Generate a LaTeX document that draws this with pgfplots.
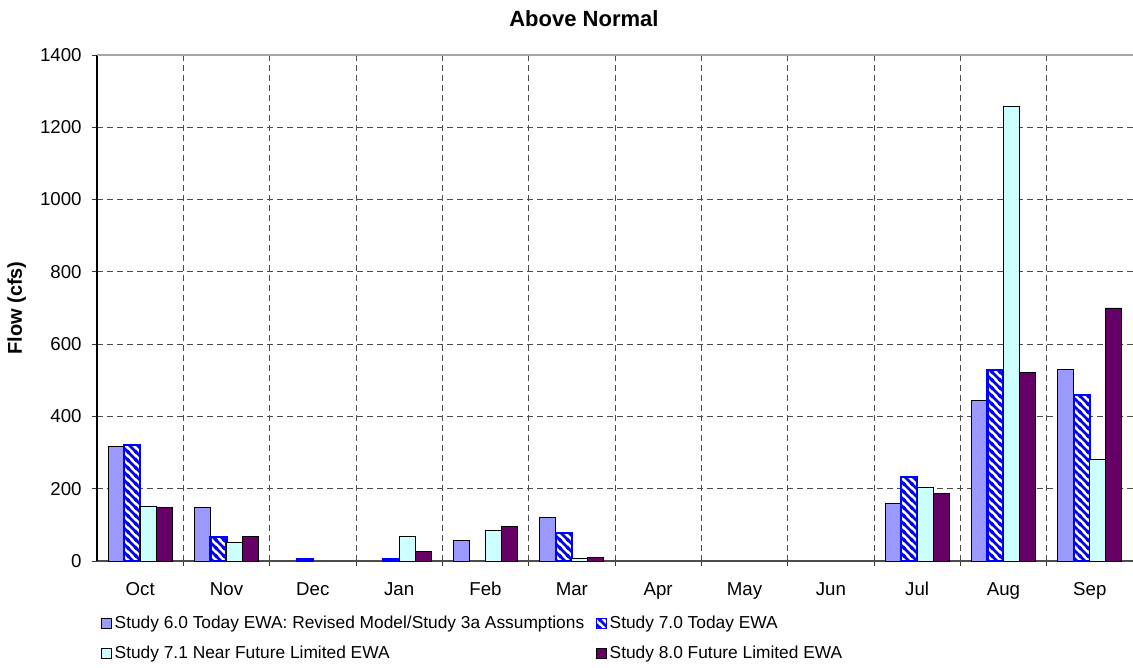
\documentclass[border=0pt]{standalone}
\usepackage{fontspec}
\setmainfont{Liberation Sans}
\usepackage{pgfplots}
\pgfplotsset{compat=1.18}
\usetikzlibrary{patterns}
\pgfdeclarepatternformonly{thicknw}{\pgfqpoint{-1pt}{-1pt}}{\pgfqpoint{7pt}{7pt}}{\pgfqpoint{6pt}{6pt}}{%
  \pgfsetlinewidth{2pt}%
  \pgfpathmoveto{\pgfqpoint{-1pt}{7pt}}\pgfpathlineto{\pgfqpoint{7pt}{-1pt}}%
  \pgfpathmoveto{\pgfqpoint{-1pt}{1pt}}\pgfpathlineto{\pgfqpoint{1pt}{-1pt}}%
  \pgfpathmoveto{\pgfqpoint{5pt}{7pt}}\pgfpathlineto{\pgfqpoint{7pt}{5pt}}%
  \pgfusepath{stroke}}
\definecolor{lav}{HTML}{9999FF}
\definecolor{pyel}{HTML}{FFFFCC}
\definecolor{cyn}{HTML}{CCFFFF}
\definecolor{pur}{HTML}{660066}
\begin{document}
\begin{tikzpicture}
\begin{axis}[
  at={(0,0)}, anchor=south west,
  scale only axis, width=777pt, height=379.5pt,
  xmin=-0.5, xmax=11.5, ymin=0, ymax=1400,
  ytick={0,200,...,1400},
  xtick={0,...,11},
  xticklabels={Oct,Nov,Dec,Jan,Feb,Mar,Apr,May,Jun,Jul,Aug,Sep},
  minor xtick={0.5,1.5,...,10.5},
  xminorgrids, ymajorgrids,
  grid style={dash pattern=on 4.5pt off 3pt, black!70, line width=0.6pt},
  minor grid style={dash pattern=on 4.5pt off 3pt, black!70, line width=0.6pt},
  major x tick style={draw=none},
  tick align=outside,
  tick style={black!80, line width=0.6pt},
  major tick length=4pt, minor tick length=4pt,
  axis x line*=bottom, axis y line*=left,
  x axis line style={-, black!70, line width=1pt},
  y axis line style={-, black, line width=0.8pt},
  /pgf/number format/assume math mode=true,
  /pgf/number format/1000 sep={},
  ticklabel style={font=\fontsize{14}{16}\selectfont},
  yticklabel style={xshift=-4pt},
  xticklabel style={yshift=-8pt, text height=10pt, text depth=3pt},
  title={Above Normal},
  title style={at={(0.47,1)}, anchor=center, yshift=21pt, font=\bfseries\fontsize{16.5}{19}\selectfont},
  ylabel={Flow (cfs)},
  ylabel style={at={(axis description cs:-0.0775,0.5)}, anchor=center, font=\bfseries\fontsize{15}{17}\selectfont},
  bar width=0.185,
  ybar=0pt,
  legend columns=2,
  legend style={at={(axis description cs:0,0)}, anchor=north west, xshift=0pt, yshift=-37pt,
    draw=none, fill=none, font=\fontsize{13}{15}\selectfont, row sep=7.5pt,
    /tikz/column 2/.style={column sep=7pt}},
  legend cell align=left,
  legend image code/.code={\draw[line width=0.6pt,#1] (0pt,-3.75pt) rectangle (7.5pt,3.75pt);},
]
\addplot[fill=lav, draw=black, line width=0.6pt, bar shift=-0.2775] coordinates {
  (0,318) (1,147) (4,56) (5,121) (9,158) (10,445) (11,530)};
\addplot[fill=pyel, draw=blue, line width=1.6pt, bar shift=-0.0925,
  postaction={pattern=thicknw, pattern color=blue}] coordinates {
  (0,320) (1,67) (2,5) (3,5) (5,78) (9,232) (10,528) (11,459)};
\addplot[fill=cyn, draw=black, line width=0.6pt, bar shift=0.0925] coordinates {
  (0,151) (1,51) (3,69) (4,86) (5,7) (9,205) (10,1258) (11,282)};
\addplot[fill=pur, draw=black, line width=0.6pt, bar shift=0.2775] coordinates {
  (0,147) (1,69) (3,26) (4,95) (5,9) (9,188) (10,521) (11,700)};
\legend{Study 6.0 Today EWA: Revised Model/Study 3a Assumptions, Study 7.0 Today EWA, Study 7.1 Near Future Limited EWA, Study 8.0 Future Limited EWA}
\draw[black!35, line width=1pt] (rel axis cs:0,1) -- (rel axis cs:1,1);
\end{axis}
\pgfresetboundingbox
\path (-72.75pt,-80.25pt) rectangle (777pt,420.75pt);
\end{tikzpicture}
\end{document}
